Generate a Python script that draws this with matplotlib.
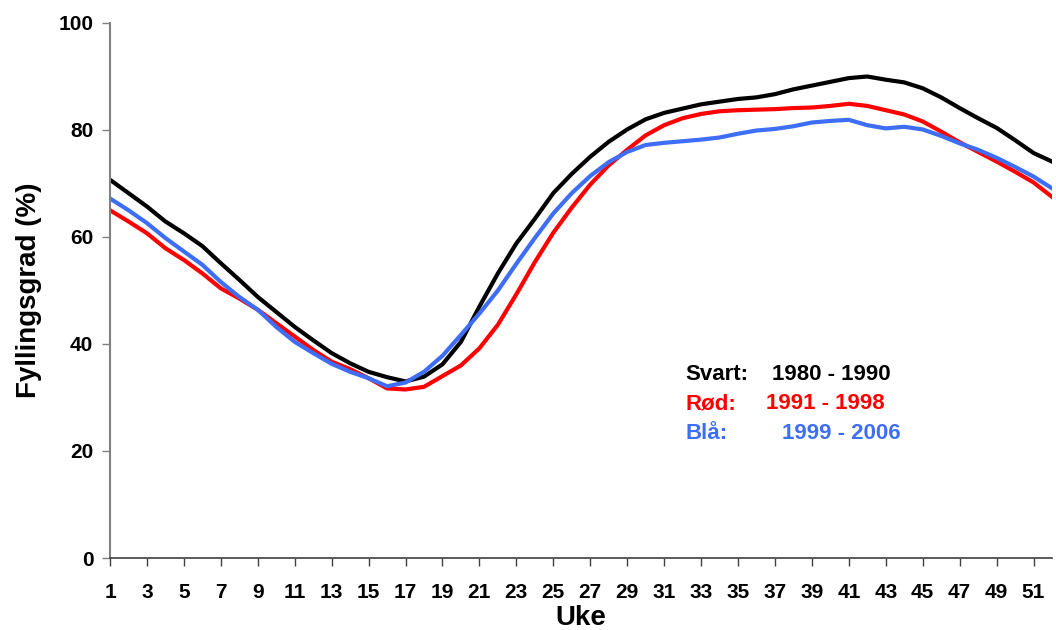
import numpy as np
import matplotlib
matplotlib.use("Agg")
import matplotlib.pyplot as plt

plt.rcParams['font.family'] = ['Liberation Sans', 'DejaVu Sans']
plt.rcParams['font.weight'] = 'bold'

weeks = list(range(1, 53))

# Svart: 1980 - 1990
svart = [70.7, 68.2, 65.7, 62.9, 60.7, 58.3, 55.1, 52.0, 48.8, 46.0,
         43.2, 40.7, 38.3, 36.4, 34.8, 33.8, 33.0, 33.9, 36.2, 40.4,
         47.0, 53.2, 58.8, 63.4, 68.2, 71.8, 75.0, 77.8, 80.1, 82.0,
         83.2, 84.0, 84.8, 85.3, 85.8, 86.1, 86.7, 87.6, 88.3, 89.0,
         89.7, 90.0, 89.4, 88.9, 87.8, 86.1, 84.1, 82.2, 80.4, 78.1,
         75.7, 74.1]

# Rød: 1991 - 1998
rod = [65.0, 62.9, 60.7, 57.9, 55.7, 53.2, 50.4, 48.5, 46.4, 43.9,
       41.4, 38.9, 36.7, 35.3, 33.6, 31.7, 31.5, 32.0, 34.0, 36.0,
       39.2, 43.6, 49.3, 55.3, 60.8, 65.5, 69.8, 73.4, 76.3, 79.0,
       80.9, 82.2, 83.0, 83.5, 83.7, 83.8, 83.9, 84.1, 84.2, 84.5,
       84.9, 84.5, 83.7, 82.9, 81.6, 79.7, 77.7, 75.9, 74.1, 72.2,
       70.2, 67.5]

# Blå: 1999 - 2006
bla = [67.2, 65.0, 62.6, 59.8, 57.3, 54.8, 51.6, 48.8, 46.4, 43.2,
       40.4, 38.3, 36.3, 34.8, 33.6, 32.1, 32.8, 34.8, 37.8, 41.7,
       45.7, 50.0, 55.0, 59.8, 64.4, 68.2, 71.4, 74.0, 75.9, 77.2,
       77.6, 77.9, 78.2, 78.6, 79.3, 79.9, 80.2, 80.7, 81.4, 81.7,
       81.9, 80.9, 80.3, 80.6, 80.1, 78.9, 77.5, 76.3, 74.8, 73.1,
       71.3, 69.1]

fig = plt.figure(figsize=(10.56, 6.3), dpi=100)
ax = fig.add_axes([110 / 1056, 1 - 558 / 630, 942 / 1056, 535 / 630])

ax.plot(weeks, svart, color='black', lw=3, solid_joinstyle='round')
ax.plot(weeks, rod, color='#ff0000', lw=3, solid_joinstyle='round')
ax.plot(weeks, bla, color='#3d6ef5', lw=3, solid_joinstyle='round')

ax.set_xlim(1, 52)
ax.set_ylim(0, 100)
ax.set_xticks(range(1, 52, 2))
ax.set_yticks(range(0, 101, 20))

for s in ['top', 'right']:
    ax.spines[s].set_visible(False)
ax.spines['left'].set_color('#808080')
ax.spines['left'].set_linewidth(1.5)
ax.spines['bottom'].set_color('#404040')
ax.spines['bottom'].set_linewidth(1.2)

ax.tick_params(axis='y', direction='out', length=6, width=1, color='#808080',
               labelsize=15, pad=6)
ax.tick_params(axis='x', direction='out', length=6, width=1, color='#404040',
               labelsize=15, pad=12)
for lab in ax.get_xticklabels() + ax.get_yticklabels():
    lab.set_fontweight('bold')

ax.set_xlabel('Uke', fontsize=20, fontweight='bold', labelpad=2)
ax.set_ylabel('Fyllingsgrad (%)', fontsize=20, fontweight='bold', labelpad=12)

# legend texts (baseline aligned)
ax.text(32.15, 33.3, 'Svart:', color='black', fontsize=16, fontweight='bold', va='baseline')
ax.text(36.85, 33.3, '1980 - 1990', color='black', fontsize=16, fontweight='bold', va='baseline')
ax.text(32.15, 27.8, 'Rød:', color='#ff0000', fontsize=16, fontweight='bold', va='baseline')
ax.text(36.5, 27.8, '1991 - 1998', color='#ff0000', fontsize=16, fontweight='bold', va='baseline')
ax.text(32.15, 22.3, 'Blå:', color='#3d6ef5', fontsize=16, fontweight='bold', va='baseline')
ax.text(37.4, 22.3, '1999 - 2006', color='#3d6ef5', fontsize=16, fontweight='bold', va='baseline')

fig.savefig('out.png', dpi=100)
